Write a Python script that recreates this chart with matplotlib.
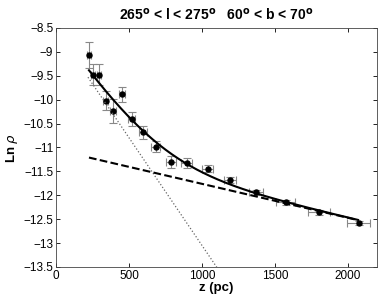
import numpy as np
import matplotlib.pyplot as plt

plt.rcParams['font.family'] = ['Liberation Sans', 'DejaVu Sans']

# data points (z in pc, ln rho)
z = [226, 255, 294, 340, 393, 452, 518, 598, 683, 788, 897, 1039,
     1192, 1370, 1575, 1804, 2073]
ln_rho = [-9.06, -9.48, -9.48, -10.02, -10.23, -9.89, -10.41, -10.68, -10.98,
          -11.30, -11.33, -11.44, -11.68, -11.94, -12.15, -12.36, -12.58]
z_err = [12, 14, 16, 18, 20, 22, 25, 28, 30, 35, 38, 40, 43, 50, 65, 75, 82]
ln_err = [0.27, 0.22, 0.22, 0.2, 0.25, 0.15, 0.15, 0.14, 0.12, 0.12, 0.1, 0.08,
          0.07, 0.06, 0.05, 0.05, 0.05]

# fitted disc components: ln rho = a - z/h
thin_a, thin_h = -8.543, 222.0
thick_a, thick_h = -11.05, 1408.0

fig = plt.figure(figsize=(3.82, 3.01), dpi=100)
ax = fig.add_axes([0.1466, 0.113, 0.8404, 0.794])

ax.errorbar(z, ln_rho, xerr=z_err, yerr=ln_err, fmt='none', ecolor='#888888',
            elinewidth=0.8, capsize=3, capthick=0.8)
ax.plot(z, ln_rho, 'ko', ms=3.6)

zz = np.linspace(219, 1120, 200)
ax.plot(zz, thin_a - zz / thin_h, color='#666666', ls=':', lw=0.9)
zz = np.linspace(226, 2070, 300)
ax.plot(zz, thick_a - zz / thick_h, 'k--', lw=1.5)
tot = np.log(np.exp(thin_a - zz / thin_h) + np.exp(thick_a - zz / thick_h))
ax.plot(zz, tot, 'k-', lw=1.5)

ax.set_xlim(0, 2200)
ax.set_ylim(-13.5, -8.5)
ax.set_xticks([0, 500, 1000, 1500, 2000])
ax.set_yticks(np.arange(-13.5, -8.4, 0.5))
ax.set_yticklabels(['\u221213.5', '\u221213', '\u221212.5', '\u221212', '\u221211.5',
                    '\u221211', '\u221210.5', '\u221210', '\u22129.5', '\u22129',
                    '\u22128.5'])
ax.tick_params(direction='in', top=True, right=True, labelsize=8.5, length=3,
               width=0.6, pad=2)
for s in ax.spines.values():
    s.set_linewidth(0.6)
    s.set_color('#444444')

ax.set_xlabel('z (pc)', fontweight='bold', fontsize=9.5, labelpad=0)
ax.set_ylabel(r'Ln $\rho$', fontweight='bold', fontsize=9.5, labelpad=2)
ax.set_title(r'265$^{\mathbf{o}}$ < l < 275$^{\mathbf{o}}$   60$^{\mathbf{o}}$ < b < 70$^{\mathbf{o}}$',
             fontweight='bold', fontsize=10, pad=6)

fig.savefig('out.png', dpi=100)
